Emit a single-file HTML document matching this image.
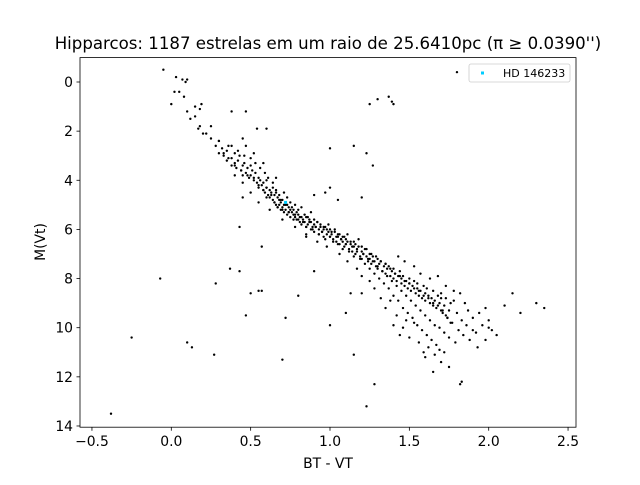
<!DOCTYPE html>
<html><head><meta charset="utf-8"><style>
body{margin:0;background:#fff;width:640px;height:480px;overflow:hidden}
svg text{font-family:"DejaVu Sans","Liberation Sans",sans-serif}
</style></head><body>
<svg id="chart" width="640" height="480">
<rect width="640" height="480" fill="#fff"/>
<text x="328" y="49" text-anchor="middle" font-size="16.6">Hipparcos: 1187 estrelas em um raio de 25.6410pc (π ≥ 0.0390'')</text>
<g id="ticks"></g>
<g id="pts"></g>
<rect x="80" y="57.6" width="496" height="369.6" fill="none" stroke="#000" stroke-width="0.8"/>
<text x="328" y="468" text-anchor="middle" font-size="13.9">BT - VT</text>
<text transform="translate(45,242) rotate(-90)" text-anchor="middle" font-size="13.9">M(Vt)</text>
<g>
<rect x="469" y="64" width="101" height="18" rx="2" fill="#fff" stroke="#ccc" stroke-width="0.8"/>
<rect x="481" y="71.5" width="3" height="3" fill="#00ccff"/>
<text x="503" y="77" font-size="11">HD 146233</text>
</g>
</svg>
<script>
const xTicks=[-0.5,0,0.5,1,1.5,2,2.5];
const xTickLabels=["−0.5","0.0","0.5","1.0","1.5","2.0","2.5"];
const yTicks=[0,2,4,6,8,10,12,14];
const bv=[-0.38,-0.25,-0.07,0.1,0.13,0.27,0.28,0.37,0.43,0.47,0.5,0.55,0.57,0.43,0.57,0.7,0.72,0.8,0.85,0.9,1.0,1.1,1.15,1.13,1.2,1.23,1.28,1.23,1.27,1.25,1.3,1.37,1.39,1.4,1.05,1.0,0.97,0.9,0.6,0.45,1.8,1.15,1.0,1.2,0.38,0.47,0.54,0.6,0.45,1.83,1.82,2.35,2.2,2.3,2.15,2.1,2.0,1.98,2.05,1.93,1.9,1.75,1.65,1.7,1.6,-0.05,0.03,0.07,0.09,0.1,0.02,0.05,0.0,0.08,0.1,0.12,0.15,0.18,0.2,0.17,0.25,0.22,0.19,0.15,0.18,
0.25,0.28,0.3,0.3,0.32,0.33,0.35,0.35,0.36,0.38,0.38,0.4,0.4,0.41,0.42,0.43,0.44,0.45,0.45,0.46,0.47,0.48,0.49,0.5,0.5,0.51,0.52,0.53,0.54,0.55,0.55,0.56,0.57,0.58,0.58,0.59,0.6,0.6,0.61,0.62,0.62,0.63,0.64,0.64,0.65,0.65,0.66,0.66,0.67,0.67,0.68,0.68,0.69,0.69,0.7,0.7,0.71,0.71,0.72,0.72,0.73,0.73,0.74,0.74,0.75,0.75,0.76,0.77,0.77,0.78,0.78,0.79,0.8,0.8,0.81,0.82,0.82,0.83,0.84,0.85,0.85,0.86,0.87,0.88,0.88,0.89,0.9,0.9,0.91,0.92,0.93,0.93,0.94,0.95,0.96,0.96,0.97,0.98,0.99,1.0,1.0,1.01,1.02,1.03,1.04,1.05,1.05,1.06,1.07,1.08,1.08,1.09,1.1,1.1,1.11,1.12,1.13,1.14,1.15,1.15,1.16,1.17,1.18,1.19,1.2,1.2,1.21,1.22,1.23,1.24,1.25,1.25,1.26,1.27,1.28,1.29,1.3,1.3,1.31,1.32,1.33,1.34,1.35,1.35,1.36,1.37,1.38,1.39,1.4,1.4,1.41,1.42,1.43,1.44,1.45,1.45,1.46,1.47,1.48,1.49,1.5,1.5,1.51,1.52,1.53,1.54,1.55,1.55,1.56,1.57,1.58,1.59,1.6,1.6,1.61,1.62,1.63,1.64,1.65,1.65,1.66,1.67,1.68,1.69,1.7,1.7,1.71,1.72,1.73,1.74,1.75,1.76,1.78,1.8,1.82,1.85,1.88,1.9,1.95];
const mv=[13.5,10.4,8.0,10.6,10.8,11.1,8.2,7.6,7.7,9.5,8.6,8.5,8.5,5.9,6.7,11.3,9.6,8.7,6.3,7.7,9.9,9.4,11.1,8.6,8.6,13.2,12.3,2.9,3.4,0.9,0.7,0.6,0.8,0.9,4.8,4.3,4.5,4.6,4.7,4.7,-0.4,2.6,2.7,4.7,1.2,1.2,1.9,1.9,2.3,12.2,12.3,9.2,9.4,9.0,8.6,9.1,10.0,10.5,10.3,10.8,10.1,11.6,11.8,11.4,11.2,-0.5,-0.2,-0.1,0.0,-0.1,0.4,0.4,0.9,0.6,1.2,1.5,1.4,1.8,2.1,1.9,1.8,2.1,0.9,1.0,1.1,
2.3,2.6,2.9,2.4,2.7,3.0,2.8,3.2,2.6,3.1,3.4,2.9,3.3,3.5,3.2,3.0,3.6,3.4,3.8,3.3,3.7,3.5,3.9,3.4,3.8,3.6,4.0,3.7,4.1,3.9,4.3,4.0,4.2,4.4,4.1,4.5,4.3,4.0,4.6,4.4,4.7,4.5,4.3,4.8,4.6,4.9,4.5,5.0,4.7,5.1,4.8,5.0,4.9,5.2,4.8,5.1,5.0,5.3,4.9,5.2,5.0,5.4,5.1,5.3,5.2,5.5,5.3,5.2,5.6,5.4,5.5,5.3,5.6,5.4,5.7,5.5,5.8,5.6,5.7,5.9,5.5,5.8,5.6,6.0,5.7,5.9,5.8,6.1,5.9,5.7,6.0,6.2,5.9,6.1,6.0,6.3,5.9,6.2,6.1,6.0,6.3,6.2,6.4,6.1,6.5,6.3,6.2,6.6,6.4,6.3,6.5,6.7,6.4,6.6,6.5,6.8,6.6,6.9,6.7,6.5,7.0,6.8,6.7,7.1,6.9,7.2,7.0,6.8,7.1,7.3,7.0,7.2,7.4,7.1,7.3,7.5,7.2,7.6,7.4,7.3,7.7,7.5,7.4,7.8,7.6,7.5,7.9,7.7,7.6,8.0,7.8,8.1,7.9,7.7,8.2,8.0,7.9,8.3,8.1,8.4,8.0,8.2,8.5,8.3,8.1,8.6,8.4,8.2,8.7,8.5,8.8,8.3,8.6,8.9,8.4,8.7,9.0,8.8,8.5,9.1,8.9,9.2,8.7,9.0,9.3,8.8,9.4,9.1,9.5,9.6,9.3,9.8];
const extraStars=[
[0.3,2.4],[0.33,2.9],[0.36,3.1],[0.38,2.6],[0.4,3.4],[0.42,2.8],[0.44,3.6],[0.46,3.0],[0.48,3.8],[0.5,3.1],[0.52,3.9],[0.53,3.3],[0.55,4.2],[0.56,3.5],[0.58,4.4],[0.59,3.7],[0.6,4.3],[0.61,3.9],[0.63,4.6],[0.64,4.1],[0.65,4.9],[0.66,4.4],[0.67,5.1],[0.68,4.6],[0.69,4.8],[0.7,5.2],[0.71,4.5],[0.72,5.0],[0.73,4.7],[0.74,5.3],[0.75,4.9],[0.76,5.1],[0.77,5.4],[0.78,5.0],[0.79,5.6],[0.8,5.2],[0.81,5.5],[0.82,5.1],[0.83,5.7],[0.84,5.4],[0.85,5.9],[0.86,5.5],[0.87,5.7],[0.88,5.3],[0.89,6.0],[0.9,5.6],[0.91,5.9],[0.92,5.7],[0.93,6.2],[0.94,5.8],[0.95,6.1],[0.96,5.9],[0.97,6.4],[0.98,6.0],[0.99,5.8],[1.0,6.3],[1.01,6.1],[1.02,6.5],[1.03,6.0],[1.04,6.3],[1.05,6.6],[1.06,6.2],[1.07,6.4],[1.08,6.8],[1.09,6.3],[1.1,6.6],[1.11,6.2],[1.12,6.9],[1.13,6.5],[1.14,6.7],[1.15,7.1],[1.16,6.6],[1.17,6.9],[1.18,6.4],[1.19,7.2],[1.2,6.7],[1.21,7.0],[1.22,7.4],[1.23,6.8],[1.24,7.2],[1.25,7.6],[1.26,7.0],[1.27,7.3],[1.28,7.8],[1.29,7.1],[1.3,7.5],[1.31,8.0],[1.32,7.3],[1.33,7.7],[1.34,8.2],[1.35,7.4],[1.36,7.9],[1.37,8.4],[1.38,7.6],[1.39,8.1],[1.4,8.7],[1.41,7.8],[1.42,8.3],[1.43,8.9],[1.44,7.9],[1.45,8.5],[1.46,9.2],[1.47,8.1],[1.48,8.7],[1.49,9.4],[1.5,8.2],[1.51,8.9],[1.52,9.6],[1.53,8.4],[1.54,9.1],[1.55,9.9],[1.56,8.5],[1.57,9.3],[1.58,10.1],[1.59,8.7],[1.6,9.5],[1.61,10.3],[1.62,8.8],[1.63,9.7],[1.64,10.5],[1.65,9.0],[1.66,9.9],[1.67,10.7],[1.68,9.1],[1.69,10.0],[1.7,8.6],[1.71,9.3],[1.72,10.2],[1.73,8.8],[1.74,9.6],[1.75,10.4],[1.76,9.0],[1.77,9.8],[1.78,8.9],[1.79,10.6],[1.8,9.4],[1.81,10.1],[1.82,8.6],[1.83,9.7],[1.84,10.3],[1.85,9.0],[1.86,9.9],[1.87,9.3],[1.88,10.5],[1.9,9.6],[1.92,10.2],[1.94,9.4],[1.96,9.9],[1.98,9.2],[2.0,9.7],[2.02,10.1],
[1.38,8.9],[1.42,9.5],[1.46,10.0],[1.5,10.4],[1.53,9.8],[1.56,10.6],[1.59,11.0],[1.62,10.8],[1.66,11.1],[1.69,10.9],[1.72,11.0],[1.35,9.2],[1.4,9.9],[1.44,10.3],[1.48,9.7],[1.32,8.8],[1.28,8.4],[1.25,8.1],[1.57,7.8],[1.63,8.0],[1.68,7.9],[1.73,8.3],[1.78,8.5],[1.53,7.5],[1.47,7.3],[1.43,7.1],[1.2,7.9],[1.17,7.6],[1.11,7.3],[1.06,7.0],[0.98,6.7],[0.92,6.5],[0.85,6.2],[0.78,5.9],[0.7,5.6],[0.62,5.2],[0.55,4.9],[0.5,4.5],[0.45,4.1],[0.4,3.8],[0.66,3.9],[0.58,3.3],[0.52,2.9],[0.47,2.6]];
const hdBv=[0.72], hdMv=[4.9];
const NS="http://www.w3.org/2000/svg";
const xPix=v=>171.3+v*158.7;
const yPix=v=>82+v*24.57;
const tg=document.getElementById('ticks');
xTicks.forEach((t,i)=>{
 const l=document.createElementNS(NS,'line');l.setAttribute('x1',xPix(t));l.setAttribute('x2',xPix(t));l.setAttribute('y1',427.2);l.setAttribute('y2',430.7);l.setAttribute('stroke','#000');l.setAttribute('stroke-width','0.8');
 
 
 tg.appendChild(l);
 const tx=document.createElementNS(NS,'text');tx.setAttribute('x',xPix(t));tx.setAttribute('y',446);tx.setAttribute('text-anchor','middle');tx.setAttribute('font-size','13.9');tx.textContent=xTickLabels[i];
 
 
 tg.appendChild(tx);
});
yTicks.forEach(t=>{
 const l=document.createElementNS(NS,'line');l.setAttribute('x1',76.5);l.setAttribute('x2',80);l.setAttribute('y1',yPix(t));l.setAttribute('y2',yPix(t));l.setAttribute('stroke','#000');l.setAttribute('stroke-width','0.8');
 
 
 tg.appendChild(l);
 const tx=document.createElementNS(NS,'text');tx.setAttribute('x',73);tx.setAttribute('y',yPix(t)+5);tx.setAttribute('text-anchor','end');tx.setAttribute('font-size','13.9');tx.textContent=String(t);
 
 
 tg.appendChild(tx);
});
const pg=document.getElementById('pts');
function dot(x,y){
 const c=document.createElementNS(NS,'circle');c.setAttribute('cx',xPix(x));c.setAttribute('cy',yPix(y));c.setAttribute('r','1.2');c.setAttribute('fill','#000');
 
 
 pg.appendChild(c);
}
for(let i=0;i<bv.length&&i<mv.length;i++) dot(bv[i],mv[i]);
extraStars.forEach(p=>dot(p[0],p[1]));
hdBv.forEach((b,i)=>{
 const c=document.createElementNS(NS,'rect');c.setAttribute('x',xPix(b)-1.5);c.setAttribute('y',yPix(hdMv[i])-1.5);c.setAttribute('width',3);c.setAttribute('height',3);c.setAttribute('fill','#00ccff');
 
 
 pg.appendChild(c);
});
</script>
</body></html>
